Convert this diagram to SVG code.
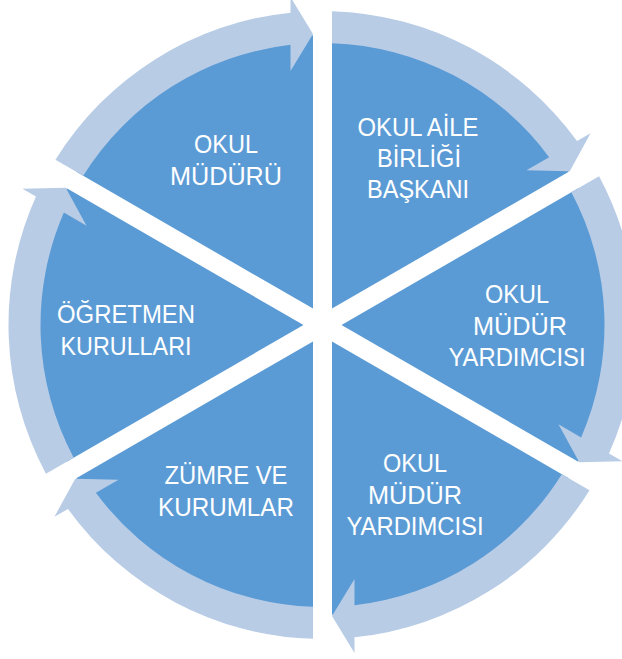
<svg xmlns="http://www.w3.org/2000/svg" xmlns:xlink="http://www.w3.org/1999/xlink" width="622" height="659" viewBox="0 0 622 659">
<style>
.w{fill:#5B9BD5}
.a{fill:#B8CCE6}
.t{font-family:"Liberation Sans",Arial,sans-serif;font-size:26px;fill:#FFFFFF;text-anchor:middle;lengthAdjust:spacingAndGlyphs}
</style>
<defs>
<path id="wedge" d="M -9.5,-16.45 L -246.25,-153.15 A 290 290 0 0 1 -9.5,-289.84 Z"/>
<path id="arrow" d="M -267.05,-165.16 A 314 314 0 0 1 -32,-312.37 L -32,-328 L -9.5,-291 L -32,-254 L -32,-280.18 A 282 282 0 0 0 -239.32,-149.15 Z"/>
</defs>
<rect width="622" height="659" fill="#FFFFFF"/>
<g id="node-okul-muduru">
<use xlink:href="#wedge" class="w" transform="translate(322.5,325) rotate(0)"/>
<text class="t" x="226" y="153" textLength="64" lengthAdjust="spacingAndGlyphs">OKUL</text>
<text class="t" x="226" y="185" textLength="112" lengthAdjust="spacingAndGlyphs">MÜDÜRÜ</text>
</g>
<g id="node-okul-aile-birligi">
<use xlink:href="#wedge" class="w" transform="translate(322.5,325) rotate(60)"/>
<text class="t" x="418" y="136" textLength="121" lengthAdjust="spacingAndGlyphs">OKUL AİLE</text>
<text class="t" x="419" y="167" textLength="84" lengthAdjust="spacingAndGlyphs">BİRLİĞİ</text>
<text class="t" x="418" y="198" textLength="102" lengthAdjust="spacingAndGlyphs">BAŞKANI</text>
</g>
<g id="node-mudur-yardimcisi-1">
<use xlink:href="#wedge" class="w" transform="translate(322.5,325) rotate(120)"/>
<text class="t" x="517" y="303" textLength="64" lengthAdjust="spacingAndGlyphs">OKUL</text>
<text class="t" x="520" y="335" textLength="94" lengthAdjust="spacingAndGlyphs">MÜDÜR</text>
<text class="t" x="517" y="366" textLength="137" lengthAdjust="spacingAndGlyphs">YARDIMCISI</text>
</g>
<g id="node-mudur-yardimcisi-2">
<use xlink:href="#wedge" class="w" transform="translate(322.5,325) rotate(180)"/>
<text class="t" x="415" y="472" textLength="64" lengthAdjust="spacingAndGlyphs">OKUL</text>
<text class="t" x="415" y="504" textLength="94" lengthAdjust="spacingAndGlyphs">MÜDÜR</text>
<text class="t" x="415" y="535" textLength="137" lengthAdjust="spacingAndGlyphs">YARDIMCISI</text>
</g>
<g id="node-zumre-ve-kurumlar">
<use xlink:href="#wedge" class="w" transform="translate(322.5,325) rotate(240)"/>
<text class="t" x="226" y="484" textLength="123" lengthAdjust="spacingAndGlyphs">ZÜMRE VE</text>
<text class="t" x="226" y="516" textLength="136" lengthAdjust="spacingAndGlyphs">KURUMLAR</text>
</g>
<g id="node-ogretmen-kurullari">
<use xlink:href="#wedge" class="w" transform="translate(322.5,325) rotate(300)"/>
<text class="t" x="126" y="323" textLength="138" lengthAdjust="spacingAndGlyphs">ÖĞRETMEN</text>
<text class="t" x="126" y="355" textLength="131" lengthAdjust="spacingAndGlyphs">KURULLARI</text>
</g>
<g id="connectors">
<use xlink:href="#arrow" class="a" transform="translate(322.5,325) rotate(0)"/>
<use xlink:href="#arrow" class="a" transform="translate(322.5,325) rotate(60)"/>
<use xlink:href="#arrow" class="a" transform="translate(322.5,325) rotate(120)"/>
<use xlink:href="#arrow" class="a" transform="translate(322.5,325) rotate(180)"/>
<use xlink:href="#arrow" class="a" transform="translate(322.5,325) rotate(240)"/>
<use xlink:href="#arrow" class="a" transform="translate(322.5,325) rotate(300)"/>
</g>
</svg>
